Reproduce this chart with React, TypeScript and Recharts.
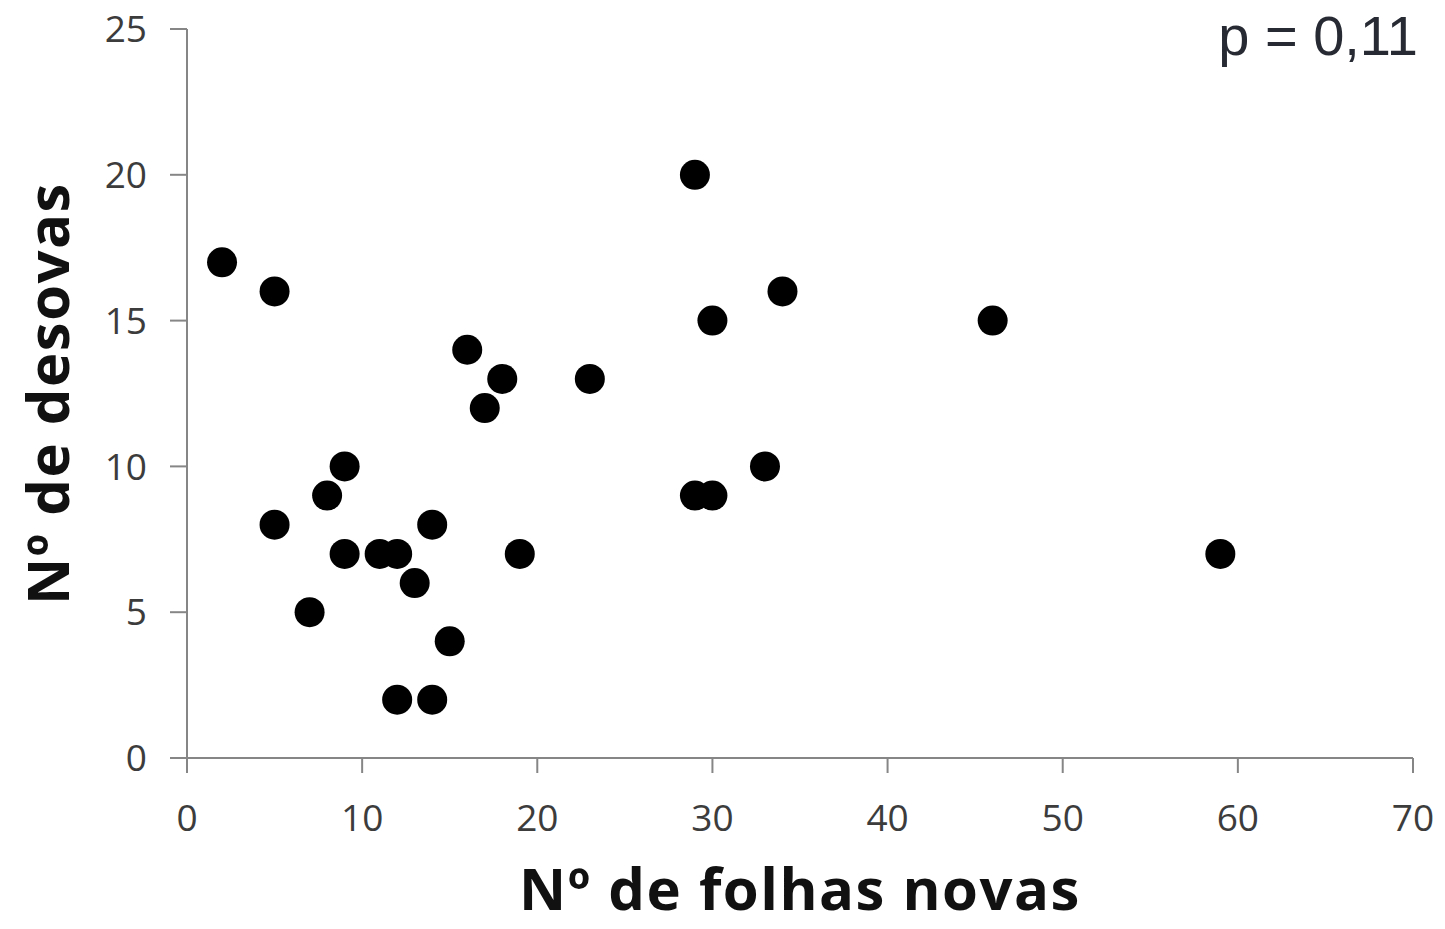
import React from "react";
import { ScatterChart, Scatter, XAxis, YAxis, Label } from "recharts";

// Nº de folhas novas (x) e Nº de desovas (y)
const folhasNovas = [2, 5, 5, 7, 8, 9, 9, 11, 12, 12, 13, 14, 14, 15, 16, 17, 18, 19, 23, 29, 29, 30, 30, 33, 34, 46, 59];
const desovas = [17, 16, 8, 5, 9, 10, 7, 7, 7, 2, 6, 8, 2, 4, 14, 12, 13, 7, 13, 20, 9, 15, 9, 10, 16, 15, 7];

const xTicks = [0, 10, 20, 30, 40, 50, 60, 70];
const yTicks = [0, 5, 10, 15, 20, 25];

const xTitle = "Nº de folhas novas";
const yTitle = "Nº de desovas";
const pValue = "p = 0,11";

const data = folhasNovas.map((x, i) => ({ x, y: desovas[i] }));

const AXIS = "#868686";
const tickStyle = { fontFamily: "Open Sans", fontSize: 37, fill: "#3c3c3c" };
const titleFont = { fontFamily: "Open Sans", fontWeight: 700, fontSize: 58, letterSpacing: 1.5, fill: "#111" };

const Dot = (props: any) => <circle cx={props.cx} cy={props.cy} r={15} fill="#000" />;

export default function App() {
  return (
    <div style={{ position: "absolute", left: 0, top: 0, width: 1445, height: 929, background: "#fff" }}>
      <ScatterChart width={1445} height={929} margin={{ top: 29, right: 32, bottom: 0, left: 0 }}>
        <XAxis
          type="number"
          dataKey="x"
          domain={[0, 70]}
          ticks={xTicks}
          interval={0}
          height={171}
          stroke={AXIS}
          strokeWidth={2}
          tickSize={15}
          tickMargin={32}
          tick={tickStyle}
        >
          <Label
            value={xTitle}
            position="insideBottom"
            offset={19}
            style={{ ...titleFont, textAnchor: "middle" }}
          />
        </XAxis>
        <YAxis
          type="number"
          dataKey="y"
          domain={[0, 25]}
          ticks={yTicks}
          interval={0}
          width={187}
          stroke={AXIS}
          strokeWidth={2}
          tickSize={17}
          tickMargin={23}
          tick={tickStyle}
        >
          <Label
            content={({ viewBox }: any) => {
              const cx = 46;
              const cy = viewBox.y + viewBox.height / 2;
              return (
                <text
                  x={cx}
                  y={cy}
                  transform={`rotate(-90 ${cx} ${cy})`}
                  textAnchor="middle"
                  dominantBaseline="central"
                  style={titleFont}
                >
                  {yTitle}
                </text>
              );
            }}
          />
        </YAxis>
        <Scatter data={data} shape={Dot} isAnimationActive={false} />
      </ScatterChart>
      <div
        style={{
          position: "absolute",
          right: 27,
          top: 8,
          fontFamily: "Liberation Sans",
          fontSize: 56,
          color: "#272a33",
          lineHeight: 1,
        }}
      >
        {pValue}
      </div>
    </div>
  );
}
